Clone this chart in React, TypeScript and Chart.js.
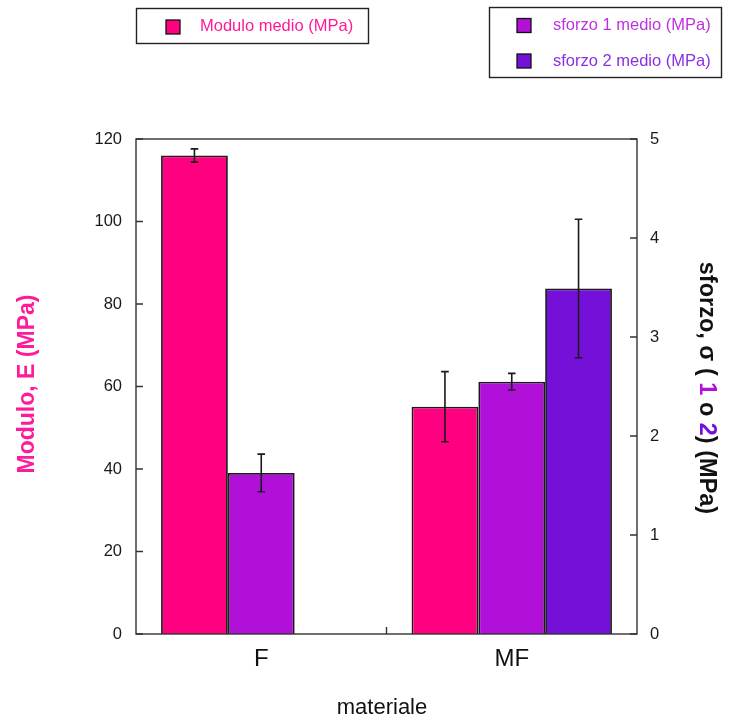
import React, { useEffect, useRef } from "react";
import { Chart, registerables } from "chart.js";

Chart.register(...registerables);

const categories = ["F", "MF"];
const moduloMean: (number | null)[] = [116, 55.1];
const moduloErr: (number | null)[] = [1.6, 8.5];
const sforzo1Mean: (number | null)[] = [1.627, 2.549];
const sforzo1Err: (number | null)[] = [0.19, 0.084];
const sforzo2Mean: (number | null)[] = [null, 3.49];
const sforzo2Err: (number | null)[] = [null, 0.7];

const leftTicks = [0, 20, 40, 60, 80, 100, 120];
const rightTicks = [0, 1, 2, 3, 4, 5];

const PINK = "#ff0080";
const PURPLE1 = "#b010d8";
const PURPLE2 = "#7510d8";
const FONT = '"Liberation Sans", Arial, sans-serif';

const errs = [moduloErr, sforzo1Err, sforzo2Err];
const means = [moduloMean, sforzo1Mean, sforzo2Mean];

const overlay = {
  id: "overlay",
  afterDatasetsDraw(chart: any) {
    const ctx = chart.ctx;
    const a = chart.chartArea;
    const y = chart.scales.y;
    const y1 = chart.scales.y1;
    const x = chart.scales.x;
    ctx.save();
    // error bars
    ctx.strokeStyle = "#1a1a1a";
    ctx.lineWidth = 1.6;
    chart.data.datasets.forEach((ds: any, di: number) => {
      const meta = chart.getDatasetMeta(di);
      const sc = chart.scales[ds.yAxisID];
      meta.data.forEach((el: any, i: number) => {
        const m = means[di][i];
        const e = errs[di][i];
        if (m == null || e == null) return;
        const top = sc.getPixelForValue(m + e);
        const bot = sc.getPixelForValue(m - e);
        const cx = el.x;
        ctx.beginPath();
        ctx.moveTo(cx, top);
        ctx.lineTo(cx, bot);
        ctx.moveTo(cx - 3.8, top);
        ctx.lineTo(cx + 3.8, top);
        ctx.moveTo(cx - 3.8, bot);
        ctx.lineTo(cx + 3.8, bot);
        ctx.stroke();
      });
    });
    // frame
    ctx.strokeStyle = "#333";
    ctx.lineWidth = 1.4;
    ctx.strokeRect(a.left, a.top, a.right - a.left, a.bottom - a.top);
    // inward ticks
    ctx.beginPath();
    leftTicks.forEach((v) => {
      const py = y.getPixelForValue(v);
      ctx.moveTo(a.left, py);
      ctx.lineTo(a.left + 7, py);
    });
    rightTicks.forEach((v) => {
      const py = y1.getPixelForValue(v);
      ctx.moveTo(a.right, py);
      ctx.lineTo(a.right - 7, py);
    });
    for (let i = 1; i < categories.length; i++) {
      const px = (x.getPixelForValue(i - 1) + x.getPixelForValue(i)) / 2;
      ctx.moveTo(px, a.bottom);
      ctx.lineTo(px, a.bottom - 7);
    }
    ctx.stroke();

    // legends
    ctx.lineWidth = 1.4;
    ctx.strokeStyle = "#222";
    ctx.strokeRect(136.5, 8.5, 232, 35);
    ctx.strokeRect(489.5, 7.5, 232, 70);
    const marker = (mx: number, my: number, col: string) => {
      ctx.fillStyle = col;
      ctx.fillRect(mx - 7, my - 7, 14, 14);
      ctx.lineWidth = 1.3;
      ctx.strokeStyle = "#111";
      ctx.strokeRect(mx - 7, my - 7, 14, 14);
    };
    ctx.font = `16.5px ${FONT}`;
    ctx.textBaseline = "middle";
    ctx.textAlign = "left";
    marker(173, 27, PINK);
    ctx.fillStyle = "#ff1a9a";
    ctx.fillText("Modulo medio (MPa)", 200, 26);
    marker(524, 25.5, PURPLE1);
    ctx.fillStyle = "#c030e0";
    ctx.fillText("sforzo 1 medio (MPa)", 553, 25);
    marker(524, 61, PURPLE2);
    ctx.fillStyle = "#8a30e0";
    ctx.fillText("sforzo 2 medio (MPa)", 553, 61);

    // left axis title
    ctx.save();
    ctx.translate(28, 384);
    ctx.rotate(-Math.PI / 2);
    ctx.font = `bold 23px ${FONT}`;
    ctx.textAlign = "center";
    ctx.textBaseline = "middle";
    ctx.fillStyle = "#ff1a9a";
    ctx.fillText("Modulo, E (MPa)", 0, 0);
    ctx.restore();

    // right axis title, multicolour
    ctx.save();
    ctx.translate(706, 388);
    ctx.rotate(Math.PI / 2);
    ctx.font = `bold 23.5px ${FONT}`;
    ctx.textBaseline = "middle";
    ctx.textAlign = "left";
    const parts: [string, string][] = [
      ["sforzo, σ ( ", "#111"],
      ["1", PURPLE1],
      [" o ", "#111"],
      ["2", PURPLE2],
      [") (MPa)", "#111"],
    ];
    const total = parts.reduce((s, p) => s + ctx.measureText(p[0]).width, 0);
    let cx = -total / 2;
    parts.forEach(([t, c]) => {
      ctx.fillStyle = c;
      ctx.fillText(t, cx, 0);
      cx += ctx.measureText(t).width;
    });
    ctx.restore();

    // x axis title
    ctx.font = `22px ${FONT}`;
    ctx.textAlign = "center";
    ctx.textBaseline = "middle";
    ctx.fillStyle = "#111";
    ctx.fillText("materiale", 382, 708);
    ctx.restore();
  },
};

export default function App() {
  const ref = useRef<HTMLCanvasElement>(null);
  useEffect(() => {
    const chart = new Chart(ref.current as HTMLCanvasElement, {
      type: "bar",
      data: {
        labels: categories,
        datasets: [
          {
            label: "Modulo medio (MPa)",
            data: moduloMean,
            yAxisID: "y",
            backgroundColor: PINK,
            borderColor: "#1a1a1a",
            borderWidth: 1.8,
          },
          {
            label: "sforzo 1 medio (MPa)",
            data: sforzo1Mean,
            yAxisID: "y1",
            backgroundColor: PURPLE1,
            borderColor: "#1a1a1a",
            borderWidth: 1.8,
          },
          {
            label: "sforzo 2 medio (MPa)",
            data: sforzo2Mean,
            yAxisID: "y1",
            backgroundColor: PURPLE2,
            borderColor: "#1a1a1a",
            borderWidth: 1.8,
          },
        ],
      },
      options: {
        responsive: false,
        animation: false,
        layout: { padding: { top: 139, left: 0, right: 0, bottom: 0 } },
        datasets: { bar: { categoryPercentage: 0.8, barPercentage: 1.0 } },
        plugins: { legend: { display: false }, tooltip: { enabled: false } },
        scales: {
          x: {
            type: "category",
            offset: true,
            grid: { display: false, drawTicks: false },
            border: { display: false },
            ticks: { color: "#111", font: { size: 24, family: FONT }, padding: 11 },
            afterFit: (s: any) => {
              s.height = 90;
            },
          },
          y: {
            position: "left",
            min: 0,
            max: 120,
            afterBuildTicks: (s: any) => {
              s.ticks = leftTicks.map((v) => ({ value: v }));
            },
            grid: { display: false, drawTicks: false },
            border: { display: false },
            ticks: { color: "#1a1a1a", font: { size: 16.5, family: FONT }, padding: 14 },
            afterFit: (s: any) => {
              s.width = 136;
            },
          },
          y1: {
            position: "right",
            min: 0,
            max: 5,
            afterBuildTicks: (s: any) => {
              s.ticks = rightTicks.map((v) => ({ value: v }));
            },
            grid: { display: false, drawTicks: false },
            border: { display: false },
            ticks: { color: "#1a1a1a", font: { size: 16.5, family: FONT }, padding: 13 },
            afterFit: (s: any) => {
              s.width = 94;
            },
          },
        },
      } as any,
      plugins: [overlay],
    });
    return () => chart.destroy();
  }, []);
  return (
    <div style={{ position: "fixed", left: 0, top: 0, width: 731, height: 724, background: "#fff" }}>
      <canvas ref={ref} width={731} height={724} style={{ display: "block" }} />
    </div>
  );
}
